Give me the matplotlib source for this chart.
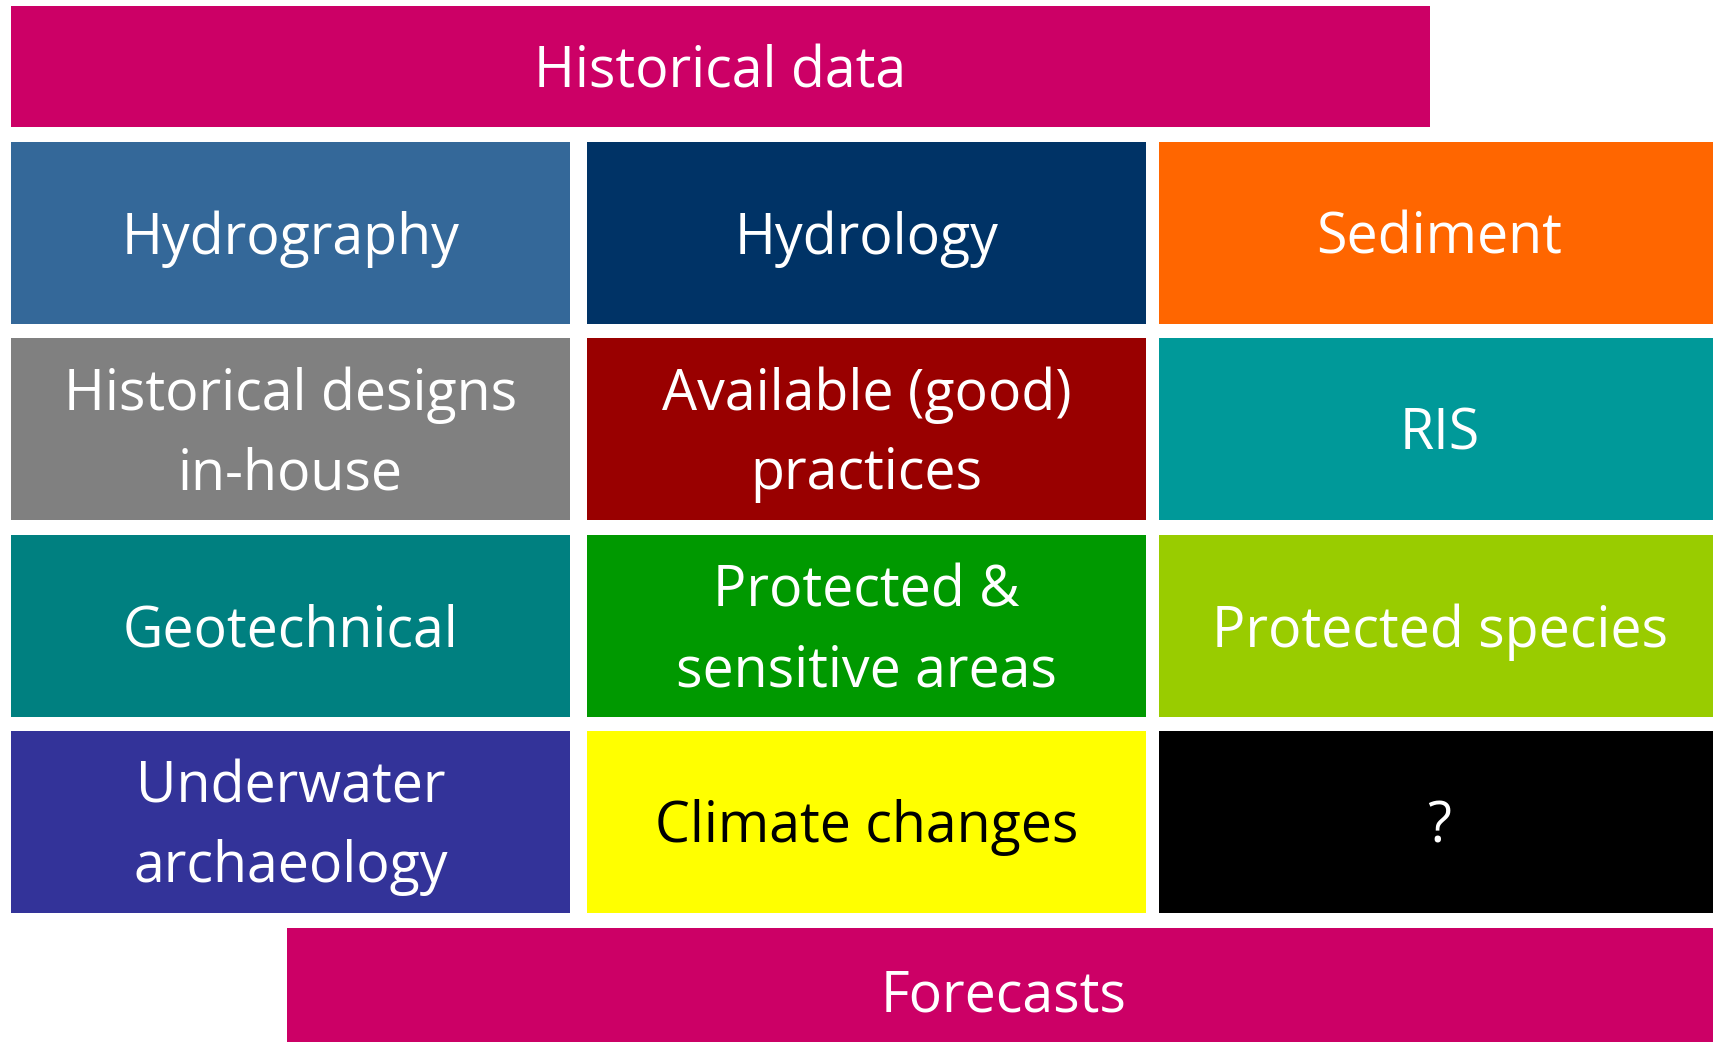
import matplotlib
matplotlib.use('Agg')
from matplotlib import pyplot as plt
from matplotlib.patches import Rectangle

plt.rcParams['font.family'] = ['Open Sans', 'DejaVu Sans']

# grid of topics, row by row
labels = [
    ['Hydrography', 'Hydrology', 'Sediment'],
    ['Historical designs\nin-house', 'Available (good)\npractices', 'RIS'],
    ['Geotechnical', 'Protected &\nsensitive areas', 'Protected species'],
    ['Underwater\narchaeology', 'Climate changes', '?'],
]
colors = [
    ['#346899', '#003366', '#ff6600'],
    ['#808080', '#990000', '#009999'],
    ['#008080', '#009900', '#99cc00'],
    ['#333399', '#ffff00', '#000000'],
]
text_colors = [
    ['white', 'white', 'white'],
    ['white', 'white', 'white'],
    ['white', 'white', 'white'],
    ['white', 'black', 'white'],
]
top_label = 'Historical data'
bottom_label = 'Forecasts'
bar_color = '#cc0066'

W, H = 1713, 1042
fig = plt.figure(figsize=(W / 100, H / 100), dpi=100)
ax = fig.add_axes([0, 0, 1, 1])
ax.set_xlim(0, W)
ax.set_ylim(H, 0)
ax.axis('off')

FS = 40


def box(x0, y0, x1, y1, color, text, tcolor='white'):
    ax.add_patch(Rectangle((x0, y0), x1 - x0, y1 - y0, facecolor=color,
                           edgecolor='none'))
    # small downward nudge so the text sits like the original
    ax.text((x0 + x1) / 2, (y0 + y1) / 2 + 6, text, color=tcolor, fontsize=FS,
            ha='center', va='center', linespacing=1.52)


# column / row edges in pixels
col_x = [(11, 570), (587, 1146), (1159, 1720)]
row_y = [(142, 324), (338, 520), (535, 717), (731, 913)]

box(11, 6, 1430, 127, bar_color, top_label)
for i, (y0, y1) in enumerate(row_y):
    for j, (x0, x1) in enumerate(col_x):
        box(x0, y0, x1, y1, colors[i][j], labels[i][j], text_colors[i][j])
box(287, 928, 1720, 1054, bar_color, bottom_label)

fig.savefig('out.png', dpi=100)
